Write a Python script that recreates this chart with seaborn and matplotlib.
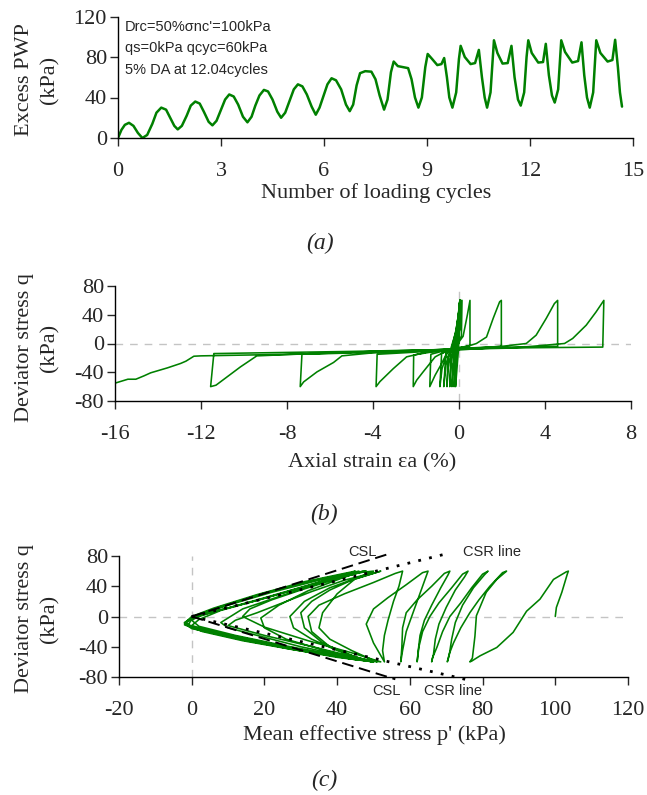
import matplotlib
matplotlib.use("Agg")
import matplotlib.pyplot as plt
import seaborn as sns

# --- panel (a): excess pore pressure vs cycles (vertices) ---
cycles_a = [0, 0.10, 0.20, 0.32, 0.45, 0.58, 0.71,
            0.85, 1.00, 1.12, 1.26, 1.40, 1.52, 1.64, 1.74,
            1.86, 2.00, 2.12, 2.25, 2.38, 2.50, 2.64, 2.75,
            2.87, 3.00, 3.12, 3.24, 3.37, 3.50, 3.64, 3.77,
            3.89, 4.00, 4.12, 4.25, 4.37, 4.50, 4.64, 4.75,
            4.87, 5.00, 5.12, 5.24, 5.37, 5.50, 5.64, 5.76,
            5.87, 6.00, 6.10, 6.22, 6.35, 6.50, 6.64, 6.75,
            6.85, 6.95, 7.05, 7.20, 7.38, 7.50, 7.62, 7.75,
            7.85, 7.95, 8.03, 8.15, 8.45, 8.55, 8.65, 8.75,
            8.85, 8.95, 9.02, 9.15, 9.30, 9.42, 9.50, 9.58, 9.65, 9.74,
            9.85, 9.93, 9.98, 10.10, 10.27, 10.40, 10.51, 10.60, 10.68, 10.75,
            10.85, 10.92, 10.95, 11.05, 11.20, 11.35, 11.46, 11.55, 11.65, 11.73,
            11.83, 11.90, 11.95, 12.05, 12.24, 12.38, 12.46, 12.55, 12.64, 12.72,
            12.82, 12.88, 12.91, 13.02, 13.23, 13.40, 13.50, 13.58, 13.66, 13.74,
            13.84, 13.90, 13.93, 14.05, 14.26, 14.40, 14.48, 14.56, 14.62, 14.68]
pwp_a = [0, 8, 13, 15, 12, 5, 0,
         3, 14, 25, 30, 28, 20, 12, 8.5,
         12, 22, 32, 36, 34, 26, 16, 12.5,
         17, 28, 38, 43, 41, 33, 21, 15.5,
         21, 32, 42, 47.5, 46, 38, 26, 20,
         25, 37, 48, 53, 51, 43, 31, 23,
         30, 43, 53, 59, 57, 48, 33, 26.5,
         33, 52, 64, 66, 65.5, 58, 42, 28,
         38, 65, 75.5, 71, 69, 58, 40, 30,
         40, 70, 83, 78, 72, 73, 79, 60, 40, 30,
         45, 78, 91, 80, 73, 74, 87, 60, 40, 30,
         45, 80, 96.5, 84, 73.5, 74, 91, 60, 38, 32,
         45, 80, 96.5, 84, 74.5, 75, 93, 62, 42, 35,
         48, 80, 96.5, 85, 74.5, 76, 94.5, 62, 40, 30,
         45, 80, 96.5, 84, 75.5, 77, 97, 70, 45, 31]

# --- panel (b): deviator stress vs axial strain ---
strain_b = [0, 0.02, 0.05, 0.03, -0.02, -0.10, -0.15,
            -0.12, -0.05, 0.00, 0.05,
            0.02, -0.05, -0.15, -0.22, -0.18, -0.10, -0.02, 0.05,
            0.00, -0.10, -0.25, -0.32, -0.28, -0.18, -0.05, 0.05,
            -0.02, -0.15, -0.35, -0.42, -0.38, -0.25, -0.08, 0.05,
            -0.05, -0.20, -0.50, -0.55, -0.50, -0.35, -0.12, 0.08,
            0.00, -0.20, -0.60, -0.70, -0.60, -0.40, -0.15, 0.10,
            0.05, -0.20, -0.80, -0.88, -0.78, -0.55, -0.25, -0.10, 0.15,
            0.12, -0.30, -1.30, -1.35, -1.10, -0.80, -0.57, -0.20, 0.20, 0.40, 0.52,
            0.52, 0.20, -0.50, -2.10, -2.12, -1.96, -1.66, -1.35, -1.10, -0.50, 0.50, 0.82, 1.29, 1.60, 1.90, 1.98,
            1.98, 1.00, 0.00, -2.00, -3.80, -3.85, -3.67, -3.05, -2.43, -1.50, 0.00, 2.00, 3.14, 3.60, 4.07, 4.45, 4.60,
            4.60, 2.00, 0.00, -4.00, -7.30, -7.38, -7.22, -6.60, -5.83, -5.44, -4.00, -2.00, 0.00, 3.00, 4.92, 5.30, 5.93, 6.39, 6.70, 6.75,
            6.70, 3.00, 0.00, -5.00, -11.40, -11.55, -11.30, -10.78, -10.16, -9.40, -6.00, -2.00, 0.00, 1.50,
            0.00, -6.00, -12.00, -12.33, -12.70, -12.95, -13.56, -14.34, -14.65, -15.03, -15.40, -15.96, -16.50]
q_b = [0, 30, 60, 20, -10, -40, -60,
       -30, 0, 30, 60,
       30, 0, -30, -60, -30, 0, 30, 60,
       30, -2, -30, -60, -30, -5, 30, 60,
       30, -3, -20, -60, -30, -8, 25, 60,
       20, -5, -18, -60, -35, -10, 20, 60,
       20, -5, -14, -60, -30, -10, 15, 60,
       20, -6, -14, -60, -35, -14, -4, 15, 60,
       10, -7, -15, -60, -44, -28, -14, -6, 10, 40, 60,
       -3, -5, -8, -16, -60, -51, -39.5, -28, -18.6, -9, -3, 0, 9, 35, 58, 60,
       -4, -6, -8, -12, -15, -60, -53, -35, -18.6, -12, -7, -4, 0, 11.6, 35, 55.6, 60,
       -4, -6, -8, -11, -15, -60, -53.4, -39.5, -26.4, -17.2, -13, -10, -7, -5, 0, 7, 25.5, 44, 58, 60,
       -5, -6, -8, -11, -14, -60, -58, -46.4, -32.5, -17.2, -13, -10, -8, -6,
       -9, -14, -17.2, -17.7, -24.6, -27.8, -33.9, -40.8, -45, -49.7, -49.7, -54.8, -56.5]

# --- panel (c): stress path ---
p_c = [100, 100.3, 101.8, 103.3, 103.6,
       103.0, 99.5, 95.8, 92.1, 88.4, 83.9, 79.3, 77.0, 76.5,
       77.2, 77.9, 78.3, 81.0, 83.9, 86.6,
       85.5, 82.0, 79.0, 76.5, 74.0, 72.0, 70.8, 70.3,
       70.8, 71.5, 72.5, 74.5, 77.5, 80.5, 81.5,
       80.0, 77.0, 74.0, 71.0, 69.0, 67.5, 66.2, 66.0,
       66.5, 67.0, 68.0, 70.0, 72.5, 75.0, 76.0,
       74.5, 71.5, 68.0, 65.5, 63.5, 62.5, 62.0,
       62.3, 62.8, 64.0, 66.0, 68.5, 70.5, 71.0,
       69.5, 66.0, 62.0, 59.0, 58.0, 57.8, 57.5,
       58.0, 59.0, 60.5, 62.0, 63.5, 65.0,
       63.5, 59.0, 54.0, 50.0, 48.0, 50.0, 53.0,
       52.5, 53.0, 54.0, 55.5, 57.0, 58.0,
       56.0, 50.0, 42.0, 35.0, 32.0, 33.0, 38.0, 46.0, 51.0,
       50.0, 44.0, 38.0, 35.0, 36.0, 40.0, 45.0, 52.0,
       50, 44, 38, 33, 30, 31, 36, 44, 50,
       47, 40, 33, 28, 27, 31, 38, 46, 50,
       46, 38, 30, 22, 16, 14, 20, 32, 44, 52,
       46, 36, 26, 20, 19, 24, 32, 42, 47,
       50.0, 42.0, 33.0, 25.0, 18.0, 12.0, 10.0, 20.0, 35.0, 50.0,
       45.0, 30.0, 18.0, 10.0, 8.0, 14.0, 25.0, 37.0, 48.0,
       45, 35, 22, 10, 3, 0, 2, 12, 25, 38, 50,
       46, 32, 18, 6, 0, 2, 8, 20, 33, 46,
       44, 33, 20, 8, 1, -2, 1, 12, 26, 40, 50,
       45, 30, 15, 4, -1, 0, 6, 18, 31, 44, 45,
       43, 31, 18, 6, 0, -2, 0, 12, 26, 40, 50,
       44, 28, 14, 3, -2, 0, 5, 17, 30, 43]
q_c = [0, 12, 32, 56, 60,
       59, 49, 23, 7, -21, -41, -52, -59, -60,
       -55, -26, 1, 32, 49, 60,
       58, 40, 22, 5, -15, -35, -50, -60,
       -52, -30, -8, 15, 38, 55, 60,
       56, 38, 18, 0, -20, -40, -55, -60,
       -50, -30, -10, 12, 35, 52, 60,
       56, 38, 18, 0, -20, -40, -60,
       -45, -25, -5, 15, 38, 55, 60,
       57, 40, 22, 5, -15, -40, -60,
       -45, -20, 0, 20, 40, 60,
       58, 42, 25, 10, -10, -35, -60,
       -45, -25, -5, 20, 40, 60,
       57, 45, 30, 15, 0, -20, -40, -55, -60,
       -58, -45, -30, -15, 5, 30, 50, 60,
       57, 48, 35, 20, 5, -15, -35, -52, -60,
       -57, -45, -30, -15, 0, 20, 38, 52, 60,
       58, 47, 35, 22, 10, 0, -14, -32, -48, -60,
       -56, -44, -30, -15, -2, 15, 34, 52, 60,
       58, 48, 33, 18, 5, -5, -12, -25, -42, -60,
       -55, -40, -25, -15, -8, 10, 28, 47, 60,
       58, 48, 32, 15, 3, -5, -13, -25, -38, -50, -60,
       -57, -46, -33, -20, -12, -4, 8, 24, 42, 60,
       58, 47, 31, 13, 1, -8, -15, -26, -40, -52, -59,
       -57, -45, -32, -20, -12, -3, 6, 22, 40, 58, 60,
       58, 46, 29, 11, 0, -9, -16, -28, -42, -54, -60,
       -56, -44, -32, -20, -11, -2, 5, 20, 38, 56]

# reference lines (end points)
csl_p = [[0, 55], [0, 56]]
csl_q = [[0, 84], [0, -83]]
csr_p = [[0, 71], [0, 77]]
csr_q = [[0, 84], [0, -85]]

GREEN = "#008000"
GRID = "#c4c4c4"

sns.set_style("ticks")
plt.rcParams['font.family'] = ['Liberation Serif', 'DejaVu Serif']
plt.rcParams['axes.unicode_minus'] = False
TICK = 16

fig = plt.figure(figsize=(6.47, 7.95), dpi=100)
W, H = 647.0, 795.0


def px_axes(left, right, top, bottom):
    return fig.add_axes([left / W, 1 - bottom / H, (right - left) / W, (bottom - top) / H])


def style(ax):
    sns.despine(ax=ax)
    for s in ("left", "bottom"):
        ax.spines[s].set_linewidth(1.0)
        ax.spines[s].set_color("black")
    ax.tick_params(axis="both", direction="out", length=6, width=1, labelsize=TICK)
    ax.tick_params(axis="x", pad=11)
    ax.tick_params(axis="y", pad=2)
    ax.set_xlabel("")
    ax.set_ylabel("")


def ylab(text, ycen):
    fig.text(37 / W, 1 - ycen / H, text, rotation=90, ha="center", va="center",
             fontsize=TICK, multialignment="center", linespacing=1.45)


# ---------- (a) ----------
ax_a = px_axes(118, 633, 16.5, 138)
sns.lineplot(x=cycles_a, y=pwp_a, ax=ax_a, sort=False, estimator=None,
             color=GREEN, lw=1.8)
ax_a.set_xlim(0, 15)
ax_a.set_ylim(0, 120)
ax_a.set_xticks(range(0, 16, 3))
ax_a.set_yticks(range(0, 121, 40))
style(ax_a)
for i, line in enumerate(["Drc=50%\u03c3nc'=100kPa", "qs=0kPa qcyc=60kPa", "5% DA at 12.04cycles"]):
    fig.text(125 / W, 1 - (26.7 + 21.7 * i) / H, line, ha="left", va="center",
             fontsize=10.5, family="Liberation Sans")
ylab("Excess PWP\n(kPa)", 80)
fig.text(376 / W, 1 - 193 / H, "Number of loading cycles", ha="center", va="center", fontsize=TICK)
fig.text(320 / W, 1 - 243 / H, "(a)", ha="center", va="center", fontsize=17, style="italic")

# ---------- (b) ----------
ax_b = px_axes(115, 630.7, 286, 401)
ax_b.axhline(0, color=GRID, lw=1, dashes=(5.5, 5), zorder=0)
ax_b.axvline(0, color=GRID, lw=1, dashes=(5.5, 5), zorder=0)
sns.lineplot(x=strain_b, y=q_b, ax=ax_b, sort=False, estimator=None,
             color=GREEN, lw=1.15)
ax_b.set_xlim(-16, 8)
ax_b.set_ylim(-80, 80)
ax_b.set_xticks(range(-16, 9, 4))
ax_b.set_yticks(range(-80, 81, 40))
style(ax_b)
ylab("Deviator stress q\n(kPa)", 348)
fig.text(372 / W, 1 - 463 / H, "Axial strain \u03b5a (%)", ha="center", va="center", fontsize=TICK)
fig.text(324 / W, 1 - 514 / H, "(b)", ha="center", va="center", fontsize=17, style="italic")

# ---------- (c) ----------
ax_c = px_axes(119, 628, 556, 677)
ax_c.axhline(0, color=GRID, lw=1, dashes=(5.5, 5), zorder=0)
ax_c.axvline(0, color=GRID, lw=1, dashes=(5.5, 5), zorder=0)
sns.lineplot(x=p_c, y=q_c, ax=ax_c, sort=False, estimator=None,
             color=GREEN, lw=1.15)
for xs, ys in zip(csl_p, csl_q):
    ax_c.plot(xs, ys, color="black", lw=1.4, linestyle=(0, (6, 3)), clip_on=False, zorder=3)
for xs, ys in zip(csr_p, csr_q):
    ax_c.plot(xs, ys, color="black", lw=2.0, linestyle=(0, (1, 3)), clip_on=False, zorder=3)
ax_c.set_xlim(-20, 120)
ax_c.set_ylim(-80, 80)
ax_c.set_xticks(range(-20, 121, 20))
ax_c.set_yticks(range(-80, 81, 40))
style(ax_c)
for x, y, s in [(47, 85, "CSL"), (82.6, 85, "CSR line"), (53.6, -99, "CSL"), (71.8, -99, "CSR line")]:
    ax_c.text(x, y, s, ha="center", va="center", fontsize=10.5, family="Liberation Sans",
              clip_on=False)
ylab("Deviator stress q\n(kPa)", 619)
fig.text(374 / W, 1 - 735 / H, "Mean effective stress p' (kPa)", ha="center", va="center", fontsize=TICK)
fig.text(324 / W, 1 - 780 / H, "(c)", ha="center", va="center", fontsize=17, style="italic")

fig.savefig("out.png", dpi=100)
